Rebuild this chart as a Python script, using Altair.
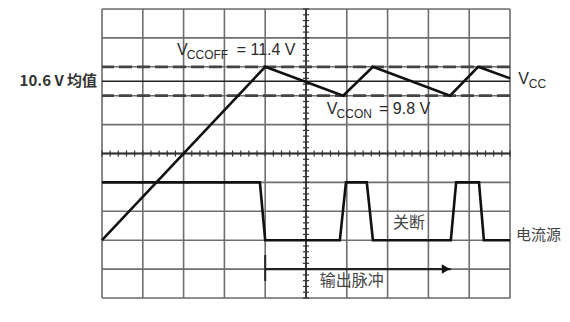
import altair as alt
import pandas as pd

# ---- data (x in M units, y in volts on a 1.6 V/div screen) ----
vcc_x = [0, 40, 59.1, 66.4, 85.3, 92.2, 100]
vcc_y = [1.8, 11.4, 9.8, 11.4, 9.8, 11.4, 10.76]

cur_x = [0, 38.7, 40, 58.3, 59.8, 64.9, 66.4, 85.5, 86.8, 92.4, 93.6, 100]
cur_y = [5.0, 5.0, 1.8, 1.8, 5.0, 5.0, 1.8, 1.8, 5.0, 5.0, 1.8, 1.8]

grid_x = [0, 10, 20, 30, 40, 50, 60, 70, 80, 90, 100]
grid_y = [-1.4, 0.2, 1.8, 3.4, 5.0, 6.6, 8.2, 9.8, 11.4, 13.0, 14.6]
x_labels = [10, 30, 50, 70, 90]

vcc_off = 11.4
vcc_on = 9.8
vcc_avg = 10.6
center_x = 50
center_y = 6.6

minor_x = [i * 2 for i in range(51)]
minor_y = [round(-1.4 + 0.32 * i, 3) for i in range(51)]

arrow_x = [40, 85.5]
arrow_y = 0.2
arrow_mark_y = [0.98, -0.46]

labels_big = pd.DataFrame({
    "x": [18.4, 33.0, 55.1, 67.9, 102.0],
    "y": [12.33, 12.33, 9.06, 9.06, 10.72],
    "t": ["V", "= 11.4 V", "V", "= 9.8 V", "V"],
})
labels_sub = pd.DataFrame({
    "x": [20.8, 57.5, 104.6],
    "y": [12.05, 8.78, 10.45],
    "t": ["CCOFF", "CCON", "CC"],
})
labels_cjk = pd.DataFrame({
    "x": [71.3, 53.4],
    "y": [2.75, -0.46],
    "t": ["关断", "输出脉冲"],
})
src_label = pd.DataFrame({"x": [101.5], "y": [2.09], "t": ["电流源"]})
avg_label = pd.DataFrame({"x": [-1.2], "y": [10.6], "t": ["10.6 V 均值"]})

XS = alt.Scale(domain=[0, 100], nice=False, zero=False)
YS = alt.Scale(domain=[-1.4, 14.6], nice=False, zero=False)

def X(field="x", axis=None):
    return alt.X(field, type="quantitative", scale=XS, axis=axis)

def Y(field="y"):
    return alt.Y(field, type="quantitative", scale=YS, axis=None)

GRID = "#6e6e6e"

vgrid = alt.Chart(pd.DataFrame({"x": grid_x})).mark_rule(
    color=GRID, strokeWidth=1.6
).encode(
    x=X("x", axis=alt.Axis(values=x_labels, labelExpr="format(datum.value, '.2f') + 'M'",
                           grid=False, ticks=False, domain=False, title=None,
                           labelFontSize=13, labelFont="Liberation Sans",
                           labelColor="#2a2a2a", labelPadding=7))
)
hgrid = alt.Chart(pd.DataFrame({"y": grid_y})).mark_rule(
    color=GRID, strokeWidth=1.6
).encode(y=Y("y"))

center_h = alt.Chart(pd.DataFrame({"y": [center_y]})).mark_rule(
    color="#333", strokeWidth=1.8).encode(y=Y("y"))
center_v = alt.Chart(pd.DataFrame({"x": [center_x]})).mark_rule(
    color="#333", strokeWidth=1.8).encode(x=X("x"))

mx = pd.DataFrame({"x": minor_x, "y": [center_y - 0.17] * len(minor_x),
                   "y2": [center_y + 0.17] * len(minor_x)})
ticks_h = alt.Chart(mx).mark_rule(color="#333", strokeWidth=1.2).encode(
    x=X("x"), y=Y("y"), y2="y2")
my = pd.DataFrame({"y": minor_y, "x": [center_x - 0.75] * len(minor_y),
                   "x2": [center_x + 0.75] * len(minor_y)})
ticks_v = alt.Chart(my).mark_rule(color="#333", strokeWidth=1.2).encode(
    y=Y("y"), x=X("x"), x2="x2")

dashed = alt.Chart(pd.DataFrame({"y": [vcc_off, vcc_on]})).mark_rule(
    color="#444", strokeWidth=2.8, strokeDash=[13, 5]).encode(y=Y("y"))
avg = alt.Chart(pd.DataFrame({"y": [vcc_avg]})).mark_rule(
    color="#222", strokeWidth=1.6).encode(y=Y("y"))

vcc = alt.Chart(pd.DataFrame({"x": vcc_x, "y": vcc_y, "i": range(len(vcc_x))})).mark_line(
    color="#111", strokeWidth=2.6).encode(x=X("x"), y=Y("y"), order="i:Q")
cur = alt.Chart(pd.DataFrame({"x": cur_x, "y": cur_y, "i": range(len(cur_x))})).mark_line(
    color="#111", strokeWidth=2.6).encode(x=X("x"), y=Y("y"), order="i:Q")

arrow = alt.Chart(pd.DataFrame({"x": [arrow_x[0]], "x2": [arrow_x[1]], "y": [arrow_y]})).mark_rule(
    color="#222", strokeWidth=2.4).encode(x=X("x"), x2="x2", y=Y("y"))
arrow_head = alt.Chart(pd.DataFrame({"x": [arrow_x[1] - 1.2], "y": [arrow_y]})).mark_point(
    shape="triangle-right", filled=True, color="#111", size=90, opacity=1).encode(x=X("x"), y=Y("y"))
arrow_mark = alt.Chart(pd.DataFrame({"x": [arrow_x[0]], "y": [arrow_mark_y[0]], "y2": [arrow_mark_y[1]]})).mark_rule(
    color="#222", strokeWidth=2).encode(x=X("x"), y=Y("y"), y2="y2")

t_big = alt.Chart(labels_big).mark_text(
    align="left", baseline="middle", fontSize=16, font="Liberation Sans", color="#2a2a2a"
).encode(x=X("x"), y=Y("y"), text="t:N")
t_sub = alt.Chart(labels_sub).mark_text(
    align="left", baseline="middle", fontSize=12, font="Liberation Sans", color="#2a2a2a"
).encode(x=X("x"), y=Y("y"), text="t:N")
t_cjk = alt.Chart(labels_cjk).mark_text(
    align="left", baseline="middle", fontSize=16, font="Noto Sans CJK SC", color="#444"
).encode(x=X("x"), y=Y("y"), text="t:N")
t_src = alt.Chart(src_label).mark_text(
    align="left", baseline="middle", fontSize=15, font="Noto Sans CJK SC", color="#444"
).encode(x=X("x"), y=Y("y"), text="t:N")
t_avg = alt.Chart(avg_label).mark_text(
    align="right", baseline="middle", fontSize=15, font="Noto Sans CJK SC", fontWeight="bold", color="#333"
).encode(x=X("x"), y=Y("y"), text="t:N")

chart = alt.layer(
    vgrid, hgrid, center_h, center_v, ticks_h, ticks_v, dashed, avg,
    vcc, cur, arrow, arrow_mark, arrow_head, t_big, t_sub, t_cjk, t_src, t_avg
).properties(
    width=408, height=289,
    padding={"left": 94, "top": 1, "right": 52, "bottom": 22},
    autosize=alt.AutoSizeParams(type="none"),
).configure_view(stroke="#111", strokeWidth=2.2).configure(background="white")

chart.save("out.html", embed_options={"renderer": "svg", "actions": False})
